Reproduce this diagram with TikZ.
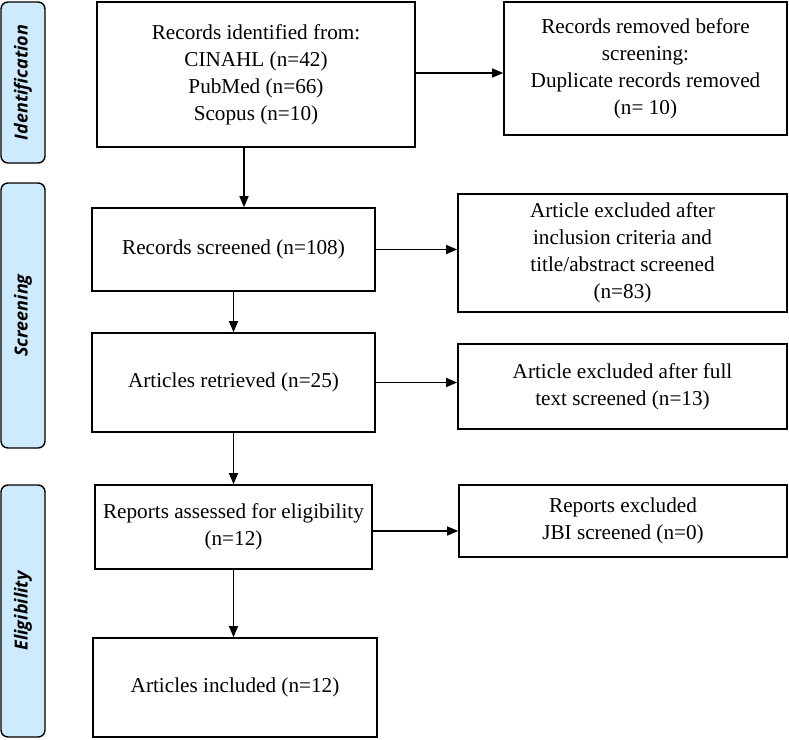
\documentclass[tikz,border=0pt]{standalone}
\usepackage{fontspec}
\setmainfont{Liberation Serif}
\newfontfamily\phasefont{Open Sans}
\usetikzlibrary{arrows.meta}
\definecolor{phaseblue}{RGB}{206,234,253}

\begin{document}
\begin{tikzpicture}[x=1pt, y=-1pt,
    box/.style={draw, line width=1.6pt, align=center, inner sep=2pt,
        font=\fontsize{21.2}{27}\selectfont},
    phase/.style={draw, fill=phaseblue, rounded corners=7pt, line width=1.4pt,
        rotate=90, minimum height=44pt, inner sep=0pt,
        font=\phasefont\bfseries\itshape\fontsize{18}{20}\selectfont},
    flow/.style={-{Triangle[length=11pt,width=9pt]}, line width=1.3pt}]
    \useasboundingbox (0,0) rectangle (789,739);

    % Phase labels
    \node[phase, minimum width=161pt] (identification) at (23,82.5) {Identification};
    \node[phase, minimum width=265pt] (screening) at (23,315.5) {Screening};
    \node[phase, minimum width=252pt] (eligibility) at (23,611) {Eligibility};

    % Main column
    \node[box, minimum width=318pt, minimum height=145pt] (ident) at (256,74.5)
        {Records identified from:\\CINAHL (n=42)\\PubMed (n=66)\\Scopus (n=10)};
    \node[box, minimum width=283pt, minimum height=83pt] (screened) at (233.5,249.5)
        {Records screened (n=108)};
    \node[box, minimum width=283pt, minimum height=99pt] (retrieved) at (233.5,382.5)
        {Articles retrieved (n=25)};
    \node[box, minimum width=277pt, minimum height=84pt] (assessed) at (233.5,527)
        {Reports assessed for eligibility\\(n=12)};
    \node[box, minimum width=284pt, minimum height=99pt] (included) at (235,687.5)
        {Articles included (n=12)};

    % Excluded column
    \node[box, minimum width=283pt, minimum height=133pt] (removed) at (645.5,68.5)
        {Records removed before\\screening:\\Duplicate records removed\\(n= 10)};
    \node[box, minimum width=329pt, minimum height=118pt] (exclTitle) at (622.5,253)
        {Article excluded after\\inclusion criteria and\\title/abstract screened\\(n=83)};
    \node[box, minimum width=329pt, minimum height=85pt] (exclFull) at (622.5,386.5)
        {Article excluded after full\\text screened (n=13)};
    \node[box, minimum width=328pt, minimum height=72pt] (exclJBI) at (623,521)
        {Reports excluded\\JBI screened (n=0)};

    % Arrows down
    \draw[flow] ([xshift=-12pt]ident.south) -- ([xshift=-12pt]ident.south |- screened.north);
    \draw[flow] (screened) -- (retrieved);
    \draw[flow] (retrieved) -- (assessed);
    \draw[flow] (assessed.south) -- (assessed.south |- included.north);

    % Arrows right
    \draw[flow] ([yshift=1.5pt]ident.east) -- ([yshift=1.5pt]ident.east -| removed.west);
    \draw[flow] (screened.east) -- (screened.east -| exclTitle.west);
    \draw[flow] (retrieved.east) -- (retrieved.east -| exclFull.west);
    \draw[flow] ([yshift=-4pt]assessed.east) -- ([yshift=-4pt]assessed.east -| exclJBI.west);
\end{tikzpicture}
\end{document}
